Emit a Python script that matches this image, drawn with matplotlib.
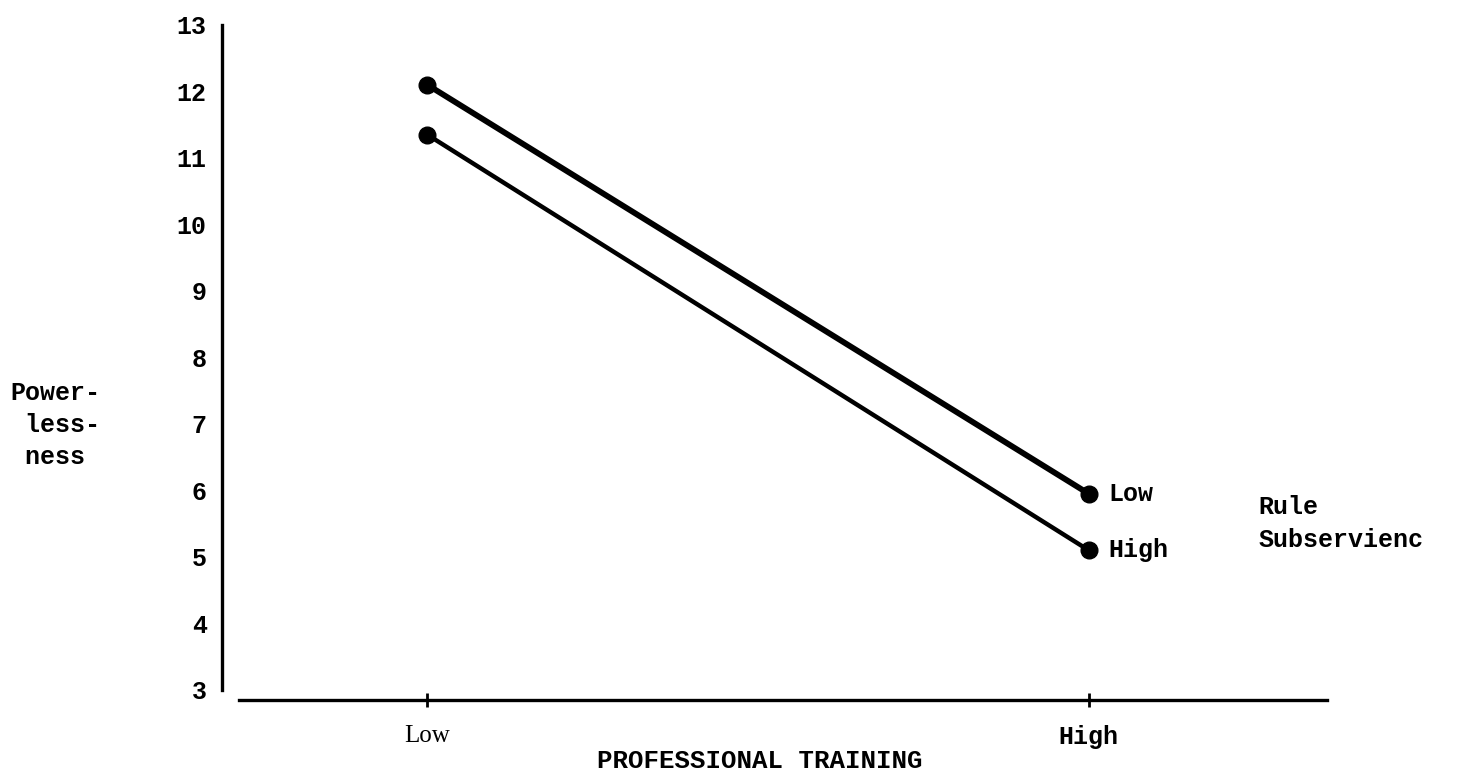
import matplotlib
matplotlib.use('Agg')
import matplotlib.pyplot as plt

# data
training = ['Low', 'High']
rule_low = [12.1, 5.95]
rule_high = [11.35, 5.1]
y_ticks = list(range(3, 14))

mono = 'Liberation Mono'
serif = 'Liberation Serif'
fs = 18

fig = plt.figure(figsize=(14.58, 7.76), dpi=100)
ax = fig.add_axes([0.1523, 0.098, 0.7578, 0.87])

x = [0, 1]
ax.plot(x, rule_low, color='black', lw=4.2, marker='o', ms=12, zorder=3)
ax.plot(x, rule_high, color='black', lw=3.2, marker='o', ms=12, zorder=3)

ax.set_xlim(-0.31, 1.36)
ax.set_ylim(2.85, 13)

# axes look
for s in ['top', 'right']:
    ax.spines[s].set_visible(False)
ax.spines['left'].set_bounds(3, 13)
ax.spines['left'].set_linewidth(2.4)
ax.spines['bottom'].set_bounds(-0.285, 1.36)
ax.spines['bottom'].set_linewidth(2.4)

ax.set_yticks(y_ticks)
ax.set_yticklabels([str(v) for v in y_ticks], fontfamily=mono, fontweight='bold', fontsize=fs)
ax.tick_params(axis='y', length=0, pad=11)

ax.set_xticks(x)
ax.set_xticklabels(training)
ax.tick_params(axis='x', direction='inout', length=10, width=2, pad=13)
lbls = ax.get_xticklabels()
lbls[0].set_fontfamily(serif)
lbls[0].set_fontsize(fs)
lbls[1].set_fontfamily(mono)
lbls[1].set_fontweight('bold')
lbls[1].set_fontsize(fs)

fig.text(760 / 1458, 1 - 761 / 776, 'PROFESSIONAL TRAINING', fontfamily=mono, fontweight='bold',
         fontsize=fs + 0.5, ha='center', va='center')

fig.text(10 / 1458, 1 - 425 / 776, 'Power-\n less-\n ness', fontfamily=mono, fontweight='bold',
         fontsize=fs, ha='left', va='center', linespacing=1.4)

ax.text(1.03, rule_low[1], 'Low', fontfamily=mono, fontweight='bold', fontsize=fs, va='center')
ax.text(1.03, rule_high[1], 'High', fontfamily=mono, fontweight='bold', fontsize=fs, va='center')
ax.text(1.257, 5.5, 'Rule\nSubservienc', fontfamily=mono, fontweight='bold', fontsize=fs,
        va='center', linespacing=1.45)

fig.savefig('out.png', dpi=100)
